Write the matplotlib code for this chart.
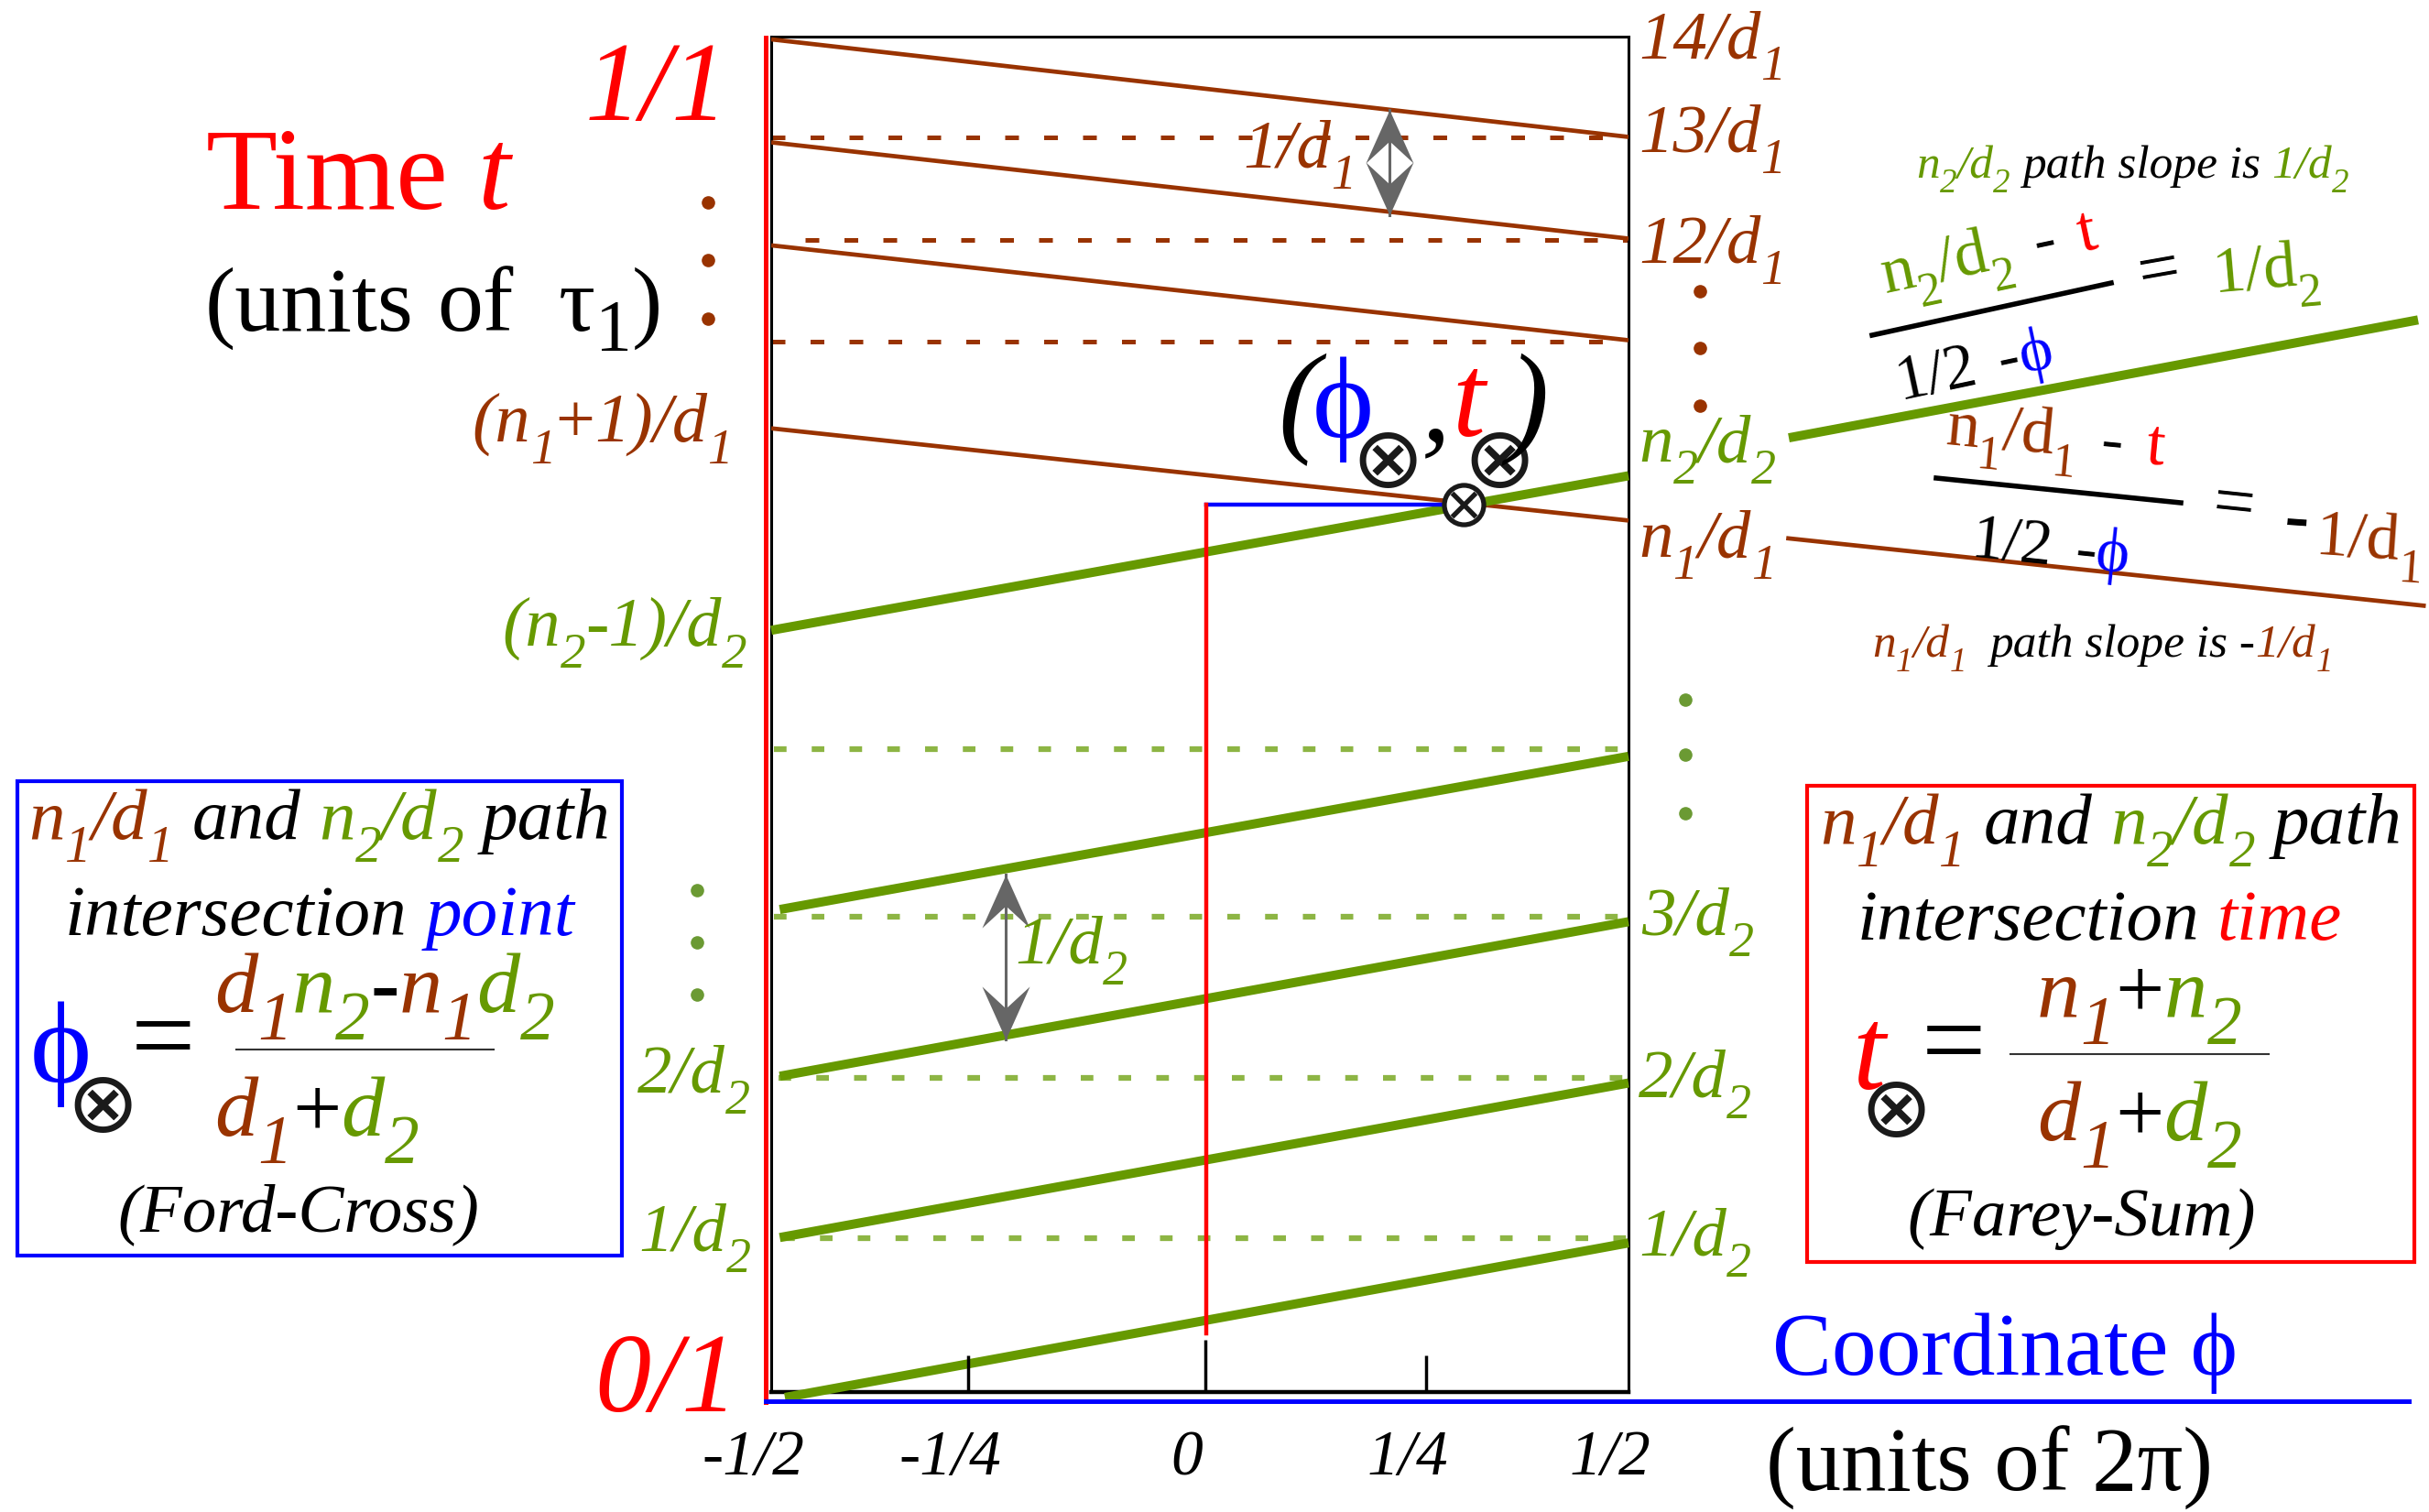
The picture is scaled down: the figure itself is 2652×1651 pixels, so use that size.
import numpy as np
import matplotlib
matplotlib.use("Agg")
import matplotlib.pyplot as plt
import matplotlib.transforms as mtransforms
from matplotlib.lines import Line2D
from matplotlib.patches import Rectangle
from matplotlib.path import Path
from matplotlib.markers import MarkerStyle

# colores
BR = "#993300"      # caminos n1/d1
G = "#669900"       # caminos n2/d2
GD = "#8db544"      # punteadas verdes
RED = "#ff0000"
BLUE = "#0000ff"
K = "black"
GRAY = "#666666"
SERIF = ["Liberation Serif", "DejaVu Serif", "DejaVu Sans"]
PHI = "\u03d5"

# --- datos (phi en unidades de 2pi, t en unidades de tau1) ---
# caminos n1/d1 (pendiente -1/d1): t en phi=-1/2 y phi=+1/2
brown_t_left = [0.998, 0.922, 0.846, 0.711]
brown_t_right = [0.926, 0.851, 0.776, 0.643]
brown_dash_t = [0.926, 0.850, 0.775]
brown_dash_x0 = [-0.5, -0.46, -0.5]

# caminos n2/d2 (pendiente +1/d2)
green_x0 = [-0.484, -0.49, -0.49, -0.49, -0.5]
green_t_left = [-0.004, 0.114, 0.233, 0.356, 0.562]
green_t_right = [0.110, 0.228, 0.347, 0.469, 0.676]
green_dash_t = [0.1135, 0.232, 0.351, 0.474]
green_dash_x0 = [-0.487, -0.491, -0.497, -0.497]

# punto de cruce y su proyeccion
phi_x, t_x = 0.308, 0.655
phi_ref, t_ref_bottom = 0.007, 0.043

# tramos fuera de la caja (pendientes)
green_seg_phi = [0.687, 1.421]
green_seg_t = [0.704, 0.791]
brown_seg_phi = [0.684, 1.430]
brown_seg_t = [0.630, 0.580]

# ejes rojo (tiempo) y azul (coordenada)
t_axis_phi = -0.506
t_axis_t = [-0.0074, 0.9993]
phi_axis_phi = [-0.506, 1.41]
phi_axis_t = -0.007

# marcas del eje phi
tick_pos = [-0.5, -0.27, 0.006, 0.264, 0.5]
tick_top = [0.0, 0.027, 0.0385, 0.027, 0.0]
tick_labels = ["-1/2", "-1/4", "0", "1/4", "1/2"]

# puntos suspensivos
brown_dots_left = (-0.574, [0.878, 0.835, 0.792])
brown_dots_right = (0.583, [0.812, 0.770, 0.728])
green_dots_left = (-0.587, [0.370, 0.332, 0.293])
green_dots_right = (0.566, [0.511, 0.470, 0.427])

# flechas de separacion 1/d1 y 1/d2
arrow_d1 = (0.221, 0.868, 0.946)
arrow_d2 = (-0.2265, 0.260, 0.382)

W, H = 2652, 1651
DPI = 100
fig = plt.figure(figsize=(W / DPI, H / DPI), dpi=DPI)
fig.patch.set_facecolor("white")
renderer = fig.canvas.get_renderer()
PX = mtransforms.Affine2D().scale(1, -1).translate(0, H)

ax = fig.add_axes([842 / W, (H - 1520) / H, 936 / W, 1480 / H])
ax.set_xlim(-0.5, 0.5)
ax.set_ylim(0, 1)
ax.set_xticks([])
ax.set_yticks([])
for s in ax.spines.values():
    s.set_linewidth(2.2)
ax.spines["bottom"].set_linewidth(3.2)

# caminos
for x0, a, b in zip([-0.5] * 4, brown_t_left, brown_t_right):
    ax.plot([x0, 0.5], [a, b], color=BR, lw=3.4, solid_capstyle="butt", zorder=3)
for x0, y in zip(brown_dash_x0, brown_dash_t):
    ax.plot([x0, 0.5], [y, y], color=BR, lw=3.6, dashes=(3.0, 5.5), zorder=2)
for x0, y in zip(green_dash_x0, green_dash_t):
    ax.plot([x0, 0.5], [y, y], color=GD, lw=4.5, dashes=(2.2, 4.4), zorder=2)
for x0, a, b in zip(green_x0, green_t_left, green_t_right):
    ax.plot([x0, 0.5], [a, b], color=G, lw=7.2, solid_capstyle="butt",
            zorder=4, clip_on=False)

ax.plot(green_seg_phi, green_seg_t, color=G, lw=7.2, solid_capstyle="butt", clip_on=False)
ax.plot(brown_seg_phi, brown_seg_t, color=BR, lw=3.4, solid_capstyle="butt", clip_on=False)

# ejes de coordenadas
ax.plot([t_axis_phi, t_axis_phi], t_axis_t, color=RED, lw=3.6, clip_on=False, zorder=6)
ax.plot(phi_axis_phi, [phi_axis_t, phi_axis_t], color=BLUE, lw=3.6, clip_on=False, zorder=6)

# marcas
ax.vlines(tick_pos[1:4], 0, tick_top[1:4], color=K, lw=2.5, zorder=5)
for x, lab in zip(tick_pos, tick_labels):
    ax.text(x, 0, lab, transform=ax.get_xaxis_transform()
            + mtransforms.Affine2D().translate(-20, -90),
            ha="center", va="baseline", fontsize=50, fontstyle="italic",
            family=SERIF, color=K)

# proyeccion del cruce
ax.plot([phi_ref, phi_x], [t_x, t_x], color=BLUE, lw=3.2, zorder=5)
ax.plot([phi_ref, phi_ref], [t_x, t_ref_bottom], color=RED, lw=3.2, zorder=5)
ax.plot([phi_x], [t_x], marker="o", ms=31, mfc="white", mec="#1a1a1a", mew=3.8, zorder=7)
ax.plot([phi_x], [t_x], marker="x", ms=19, mec="#1a1a1a", mew=3.8, zorder=8)

# puntos suspensivos
for (px, ys), col in [(brown_dots_left, BR), (brown_dots_right, BR),
                      (green_dots_left, "#6b9a33"), (green_dots_right, "#6b9a33")]:
    ax.plot([px] * len(ys), ys, "o", color=col, ms=9.5, clip_on=False)

# flechas con puntas tipo "stealth"
head_up = Path([(0, 0), (26, -58), (0, -34), (-26, -58), (0, 0)],
               [Path.MOVETO, Path.LINETO, Path.LINETO, Path.LINETO, Path.CLOSEPOLY])
head_dn = Path([(0, 0), (26, 58), (0, 34), (-26, 58), (0, 0)],
               [Path.MOVETO, Path.LINETO, Path.LINETO, Path.LINETO, Path.CLOSEPOLY])
head_ms = 2 * 58 * 72 / DPI
for px, y0, y1 in [arrow_d1, arrow_d2]:
    ax.plot([px, px], [y0, y1], color=GRAY, lw=2.2, zorder=6)
    ax.plot([px], [y1], marker=MarkerStyle(head_up), ms=head_ms, color=GRAY, mew=0, zorder=6)
    ax.plot([px], [y0], marker=MarkerStyle(head_dn), ms=head_ms, color=GRAY, mew=0, zorder=6)


# --- texto ---
def put(x, y, s, size, color=K, style="normal", weight="normal", rot=0,
        ha="left", va="baseline", family=SERIF):
    return fig.text(x, y, s, transform=PX, fontsize=size, color=color,
                    fontstyle=style, fontweight=weight, family=family,
                    rotation=rot, rotation_mode="anchor", ha=ha, va=va)


def runs(x, y, parts, size, style="italic", rot=0, ha="left",
         sub_scale=0.72, sub_drop=0.32):
    em = size * DPI / 72
    a = np.deg2rad(rot)
    items = []
    total = 0.0
    for p in parts:
        if isinstance(p, (int, float)):
            items.append((None, p * em, 0))
            total += p * em
            continue
        txt, col = p[0], p[1]
        sub = len(p) > 2 and p[2]
        st = p[3] if len(p) > 3 else style
        wt = p[4] if len(p) > 4 else "normal"
        t = put(0, 0, txt, size * sub_scale if sub else size, col, st, wt)
        w = t.get_window_extent(renderer).width
        items.append((t, w, sub))
        total += w
    if ha == "center":
        x, y = x - total / 2 * np.cos(a), y + total / 2 * np.sin(a)
    elif ha == "right":
        x, y = x - total * np.cos(a), y + total * np.sin(a)
    pos = 0.0
    for t, w, sub in items:
        if t is not None:
            drop = sub_drop * em if sub else 0
            t.set_position((x + pos * np.cos(a) + drop * np.sin(a),
                            y - pos * np.sin(a) + drop * np.cos(a)))
            t.set_rotation(rot)
        pos += w


def otimes(x, y, size=68):
    put(x, y, "\u2297", size, "#1a1a1a", ha="center", va="center",
        family=["DejaVu Sans"])


def frac_label(x, y, num, col, den, size=54, ha="left"):
    runs(x, y, [(num, col), (den, col, 1)], size, ha=ha)


# eje del tiempo
put(795, 131, "1/1", 88, RED, "italic", ha="right")
put(806, 1541, "0/1", 88, RED, "italic", ha="right")
runs(225, 228, [("Time", RED, 0, "normal"), 0.25, ("t", RED)], 92)
runs(224, 361, [("(units", K), 0.25, ("of", K), 0.5, ("\u03c4", K), ("1", K, 1), (")", K)],
     72, style="normal", sub_scale=0.8, sub_drop=0.22)

runs(800, 482, [("(n", BR), ("1", BR, 1), ("+", BR, 0, "normal"), ("1)/d", BR), ("1", BR, 1)],
     55, ha="right")
runs(815, 705, [("(n", G), ("2", G, 1), ("-1)/d", G), ("2", G, 1)], 55, ha="right")
frac_label(819, 1192, "2/d", G, "2", ha="right")
frac_label(820, 1365, "1/d", G, "2", ha="right")

# etiquetas a la derecha de la caja
frac_label(1789, 63, "14/d", BR, "1")
frac_label(1789, 165, "13/d", BR, "1")
frac_label(1789, 286, "12/d", BR, "1")
runs(1789, 504, [("n", G), ("2", G, 1), ("/d", G), ("2", G, 1)], 54)
runs(1789, 608, [("n", BR), ("1", BR, 1), ("/d", BR), ("1", BR, 1)], 54)
frac_label(1792, 1020, "3/d", G, "2")
frac_label(1789, 1197, "2/d", G, "2")
frac_label(1789, 1370, "1/d", G, "2")

# etiquetas de separacion
frac_label(1357, 182, "1/d", BR, "1")
frac_label(1108, 1051, "1/d", G, "2")

# (phi_x, t_x)
put(1395, 480, "(", 98, K, "italic")
put(1433, 478, PHI, 92, BLUE)
otimes(1515, 506)
put(1552, 480, ",", 92, K, "italic")
put(1585, 476, "t", 93, RED, "italic")
otimes(1637, 506)
put(1645, 480, ")", 98, K, "italic")

# pendientes, arriba a la derecha
runs(2092, 194, [("n", G), ("2", G, 1), ("/d", G), ("2", G, 1), 0.25, ("path slope is", K), 0.25,
                 ("1/d", G), ("2", G, 1)], 37)
runs(2058, 320, [("n", G), ("2", G, 1), ("/d", G), ("2", G, 1), 0.35, ("-", K), 0.35, ("t", RED)],
     52, style="normal", rot=12)
fig.add_artist(Line2D([2044, 2305], [366, 309], transform=PX, color=K, lw=4))
runs(2075, 436, [("1/2", K), 0.35, ("-", K), (PHI, BLUE)], 50, style="normal", rot=12)
put(2361, 318, "=", 58, K, rot=10, ha="center")
runs(2417, 320, [("1/d", G), ("2", G, 1)], 52, style="normal", rot=5)

runs(2123, 485, [("n", BR), ("1", BR, 1), ("/d", BR), ("1", BR, 1), 0.35, ("-", K), 0.35, ("t", RED)],
     52, style="normal", rot=-5.5)
fig.add_artist(Line2D([2114, 2381], [522, 549], transform=PX, color=K, lw=4))
runs(2151, 608, [("1/2", K), 0.35, ("-", K), (PHI, BLUE)], 50, style="normal", rot=-6)
put(2437, 574, "=", 58, K, rot=-6, ha="center")
put(2506, 590, "-", 58, K, weight="bold", rot=-4, ha="center")
runs(2527, 606, [("1/d", BR), ("1", BR, 1)], 52, style="normal", rot=-4)
runs(2044, 717, [("n", BR), ("1", BR, 1), ("/d", BR), ("1", BR, 1), 0.5, ("path slope is -", K),
                 ("1/d", BR), ("1", BR, 1)], 37)

# eje phi
put(1935, 1501, "Coordinate " + PHI, 70, BLUE)
put(1928, 1628, "(units of 2\u03c0)", 71, K)

# recuadro azul: punto de cruce (Ford-Cross)
fig.add_artist(Rectangle((19, 853), 660, 518, transform=PX, fill=False, ec=BLUE, lw=3))
line1 = [("n", BR), ("1", BR, 1), ("/d", BR), ("1", BR, 1), 0.25, ("and", K), 0.25,
         ("n", G), ("2", G, 1), ("/d", G), ("2", G, 1), 0.25, ("path", K)]
runs(349, 916, line1, 57, ha="center")
runs(349, 1021, [("intersection", K), 0.25, ("point", BLUE)], 57, ha="center")
put(33, 1182, PHI, 92, BLUE)
otimes(112, 1210)
put(178, 1172, "=", 90, K, ha="center")
runs(234, 1105, [("d", BR), ("1", BR, 1), ("n", G), ("2", G, 1), ("-", K, 0, "normal", "bold"),
                 ("n", BR), ("1", BR, 1), ("d", G), ("2", G, 1)], 68, sub_scale=0.8)
fig.add_artist(Line2D([258, 539], [1146, 1146], transform=PX, color="#333333", lw=1.5))
runs(234, 1240, [("d", BR), ("1", BR, 1), ("+", K, 0, "normal"), ("d", G), ("2", G, 1)], 68,
     sub_scale=0.8)
put(326, 1344, "(Ford-Cross)", 54, K, "italic", ha="center")

# recuadro rojo: tiempo de cruce (Farey-Sum)
fig.add_artist(Rectangle((1973, 858), 663, 520, transform=PX, fill=False, ec=RED, lw=3))
runs(2305, 921, line1, 57, ha="center")
runs(2292, 1026, [("intersection", K), 0.25, ("time", RED)], 57, ha="center")
put(2022, 1189, "t", 93, RED, "italic")
otimes(2070, 1215)
put(2133, 1177, "=", 90, K, ha="center")
runs(2224, 1110, [("n", BR), ("1", BR, 1), ("+", K, 0, "normal"), ("n", G), ("2", G, 1)], 68,
     sub_scale=0.8)
fig.add_artist(Line2D([2195, 2477], [1151, 1151], transform=PX, color="#333333", lw=1.5))
runs(2224, 1245, [("d", BR), ("1", BR, 1), ("+", K, 0, "normal"), ("d", G), ("2", G, 1)], 68,
     sub_scale=0.8)
put(2273, 1349, "(Farey-Sum)", 54, K, "italic", ha="center")

fig.savefig("out.png", dpi=DPI)
